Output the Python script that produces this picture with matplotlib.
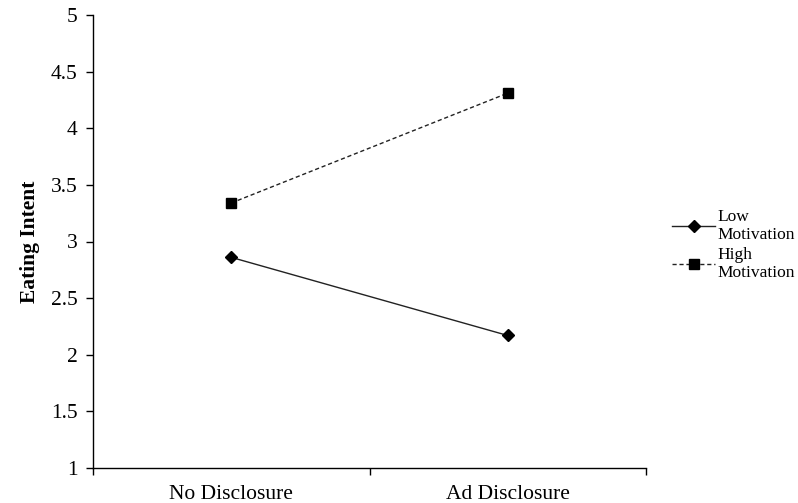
import matplotlib
matplotlib.use("Agg")
import matplotlib.pyplot as plt

categories = ["No Disclosure", "Ad Disclosure"]
low_motivation = [2.86, 2.17]
high_motivation = [3.34, 4.31]
series_labels = ["Low\nMotivation", "High\nMotivation"]
y_ticks = [1, 1.5, 2, 2.5, 3, 3.5, 4, 4.5, 5]
y_tick_labels = ["1", "1.5", "2", "2.5", "3", "3.5", "4", "4.5", "5"]

plt.rcParams['font.family'] = ['Liberation Serif', 'DejaVu Serif']

fig = plt.figure(figsize=(7.98, 5.03), dpi=100)
ax = fig.add_axes([93/798, 35/503, (646-93)/798, (468-15)/503])

line_color = '#222222'
xpos = [0.5, 1.5]
ax.plot(xpos, low_motivation, color=line_color, lw=1.0, marker='D', markersize=6.5,
        markerfacecolor='black', markeredgecolor='black', label=series_labels[0])
ax.plot(xpos, high_motivation, color=line_color, lw=1.0, ls=(0, (3, 2)), marker='s',
        markersize=7, markerfacecolor='black', markeredgecolor='black', label=series_labels[1])

ax.set_xlim(0, 2)
ax.set_ylim(1, 5)
ax.set_yticks(y_ticks)
ax.set_yticklabels(y_tick_labels, fontsize=15.5)
ax.set_xticks([0, 1, 2])
ax.set_xticklabels([])
ax.set_xticks(xpos, minor=True)
ax.set_xticklabels(categories, minor=True, fontsize=15.5)
ax.tick_params(axis='x', which='minor', length=0, pad=12)
ax.tick_params(axis='x', which='major', direction='out', length=5, width=1)
ax.tick_params(axis='y', direction='out', length=5, width=1, pad=6)

for s in ['top', 'right']:
    ax.spines[s].set_visible(False)
for s in ['left', 'bottom']:
    ax.spines[s].set_linewidth(1.0)

ax.set_ylabel("Eating Intent", fontsize=15.5, fontweight='bold', labelpad=8)

leg = fig.legend(loc='center left', bbox_to_anchor=(665/798, 1 - 245/503), frameon=False,
                 fontsize=12.5, handlelength=2.5, handletextpad=0.15, labelspacing=0.2,
                 borderaxespad=0)
for t in leg.get_texts():
    t.set_linespacing(1.15)

fig.savefig("out.png", dpi=100)
